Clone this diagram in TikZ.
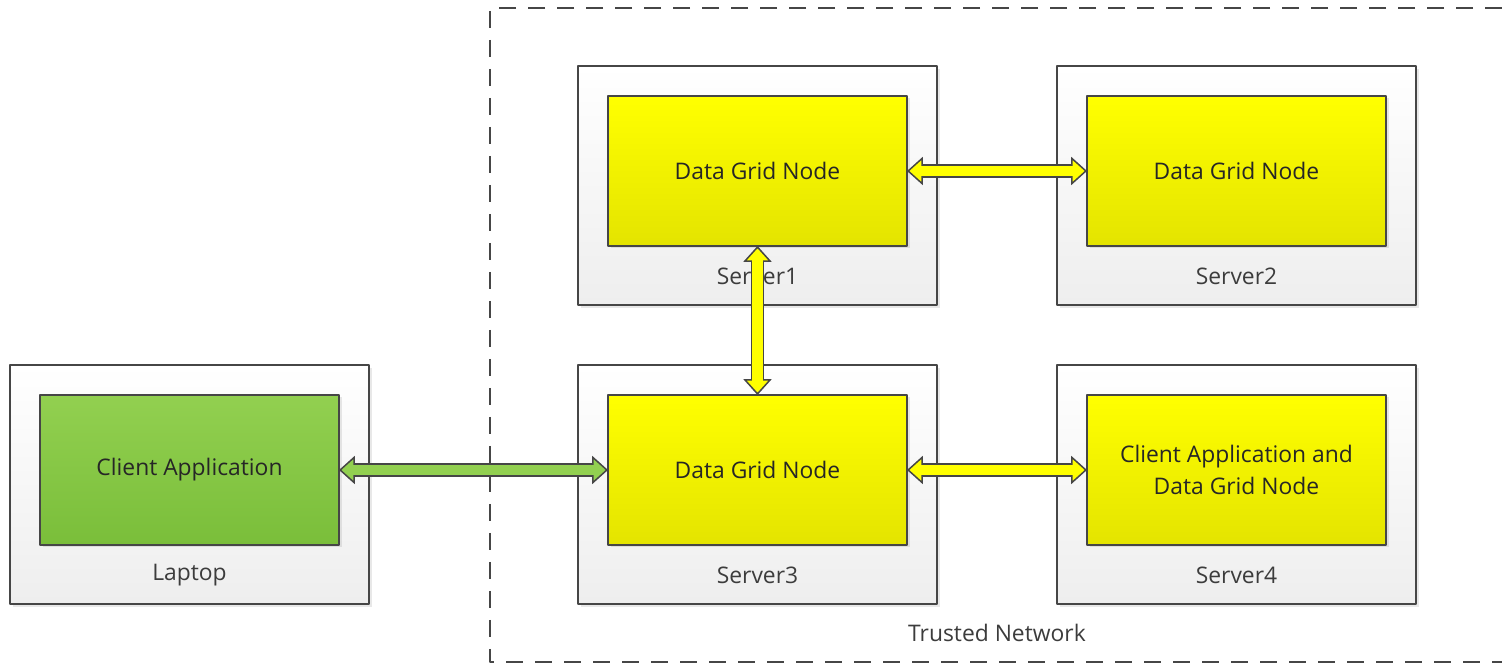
\documentclass[tikz,border=0pt]{standalone}
\usepackage{fontspec}
\setmainfont{Open Sans}
\usepackage{tikz}
\usetikzlibrary{positioning,calc,arrows.meta,shadows}

\begin{document}
\begin{tikzpicture}[
		x=1cm,y=1cm,
		>=Stealth,
		line join=round,
		font=\fontsize{13}{18}\selectfont
		]
		% ---- colors
		\definecolor{boxLine}{RGB}{70,70,70}
		\definecolor{txtGray}{RGB}{60,60,60}
		\definecolor{dgTop}{RGB}{255,255,0}
		\definecolor{dgBot}{RGB}{228,228,0}
		\definecolor{caTop}{RGB}{146,208,80}
		\definecolor{caBot}{RGB}{122,190,58}
		\definecolor{srvBot}{RGB}{238,238,238}
		
		% ---- parameters
		\def\srvW{7.18}
		\def\srvH{4.78}
		\def\inW{5.98}
		\def\inH{3.00}
		
		% ---- styles
		\tikzset{
			srvbox/.style={draw=boxLine, line width=1.1pt, top color=white, bottom color=srvBot,
				minimum width=\srvW cm, minimum height=\srvH cm, inner sep=0pt, outer sep=0pt,
				drop shadow={shadow xshift=0.06cm, shadow yshift=-0.06cm, opacity=0.18}},
			dgbox/.style={draw=boxLine, line width=1.1pt, top color=dgTop, bottom color=dgBot,
				minimum width=\inW cm, minimum height=\inH cm, inner sep=0pt, outer sep=0pt, align=center,
				text=black!85,
				drop shadow={shadow xshift=0.05cm, shadow yshift=-0.05cm, opacity=0.18}},
			cabox/.style={dgbox, top color=caTop, bottom color=caBot},
			srvlabel/.style={text=txtGray, inner sep=0pt},
			blockarr/.style={draw=boxLine, line width=7.6pt, line cap=butt,
				{Triangle[length=9pt, width=16pt, line width=0.85pt, fill=#1]}-{Triangle[length=9pt, width=16pt, line width=0.85pt, fill=#1]},
				postaction={draw=#1, line width=5.9pt, arrows=-, shorten <=8pt, shorten >=8pt}}
		}
		
		% ---- page size
		\useasboundingbox (0,0) rectangle (30.04,13.34);
		
		% ---- trusted network (dashed, open to the right)
		\coordinate (TNtr) at (30.04,13.18);
		\coordinate (TNtl) at (9.80,13.18);
		\coordinate (TNbl) at (9.80,0.10);
		\coordinate (TNbr) at (30.04,0.10);
		\draw[boxLine, line width=1.1pt, dash pattern=on 0.34cm off 0.24cm] (TNtr) -- (TNtl) -- (TNbl) -- (TNbr);
		\node[srvlabel] (TNlbl) at (19.94,0.68) {Trusted Network};
		
		% ---- server boxes
		\node[srvbox] (S1) at (15.15,9.63) {};
		\node[srvbox, right=2.4cm of S1] (S2) {};
		\node[srvbox, below=1.2cm of S1] (S3) {};
		\node[srvbox, below=1.2cm of S2] (S4) {};
		\node[srvbox, left=4.18cm of S3] (LT) {};
		
		% ---- inner boxes
		\node[dgbox, below=0.6cm of S1.north] (DG1) {Data Grid Node};
		\node[dgbox, below=0.6cm of S2.north] (DG2) {Data Grid Node};
		\node[dgbox, below=0.6cm of S3.north] (DG3) {Data Grid Node};
		\node[dgbox, below=0.6cm of S4.north] (DG4) {Client Application and\\Data Grid Node};
		\node[cabox, below=0.6cm of LT.north] (CA) {Client Application};
		
		% ---- machine names
		\node[srvlabel] (S1l) at ($(S1.south)+(0,0.58)$) {Server1};
		\node[srvlabel] (S2l) at ($(S2.south)+(0,0.58)$) {Server2};
		\node[srvlabel] (S3l) at ($(S3.south)+(0,0.58)$) {Server3};
		\node[srvlabel] (S4l) at ($(S4.south)+(0,0.58)$) {Server4};
		\node[srvlabel] (LTl) at ($(LT.south)+(0,0.58)$) {Laptop};
		
		% ---- connections
		\draw[blockarr=dgTop] (DG1.east) -- (DG2.west);
		\draw[blockarr=dgTop] (DG1.south) -- (DG3.north);
		\draw[blockarr=dgTop] (DG3.east) -- (DG4.west);
		\draw[blockarr=caTop] (CA.east) -- (DG3.west);
		
	\end{tikzpicture}
\end{document}
